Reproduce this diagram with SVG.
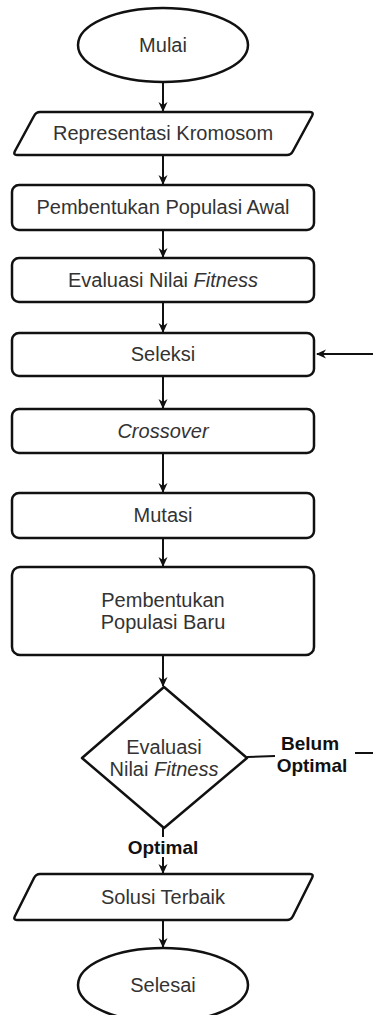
<svg xmlns="http://www.w3.org/2000/svg" width="373" height="1015" viewBox="0 0 373 1015">
<style>
.s{fill:#fff;stroke:#111;stroke-width:2.5;stroke-linejoin:round}
.t{font-family:"Liberation Sans",Arial,sans-serif;font-size:20px;fill:#333;text-anchor:middle;dominant-baseline:central}
.b{font-weight:bold;fill:#111;font-size:19px}
.c{fill:none;stroke:#111;stroke-width:2}
</style>
<defs>
<marker id="ah" viewBox="0 0 10 10" refX="9" refY="5" markerWidth="10" markerHeight="10" orient="auto" markerUnits="userSpaceOnUse">
<path d="M0,0.5 L10,5 L0,9.5 L3,5 Z" fill="#111"/>
</marker>
</defs>
<g id="connectors">
<line class="c" x1="163" y1="82" x2="163" y2="111" marker-end="url(#ah)"/>
<line class="c" x1="163" y1="155" x2="163" y2="184" marker-end="url(#ah)"/>
<line class="c" x1="163" y1="230" x2="163" y2="257" marker-end="url(#ah)"/>
<line class="c" x1="163" y1="302" x2="163" y2="332" marker-end="url(#ah)"/>
<line class="c" x1="163" y1="376" x2="163" y2="408" marker-end="url(#ah)"/>
<line class="c" x1="163" y1="453" x2="163" y2="492" marker-end="url(#ah)"/>
<line class="c" x1="163" y1="538" x2="163" y2="566" marker-end="url(#ah)"/>
<line class="c" x1="163" y1="655" x2="163" y2="686" marker-end="url(#ah)"/>
<line class="c" x1="163" y1="828" x2="163" y2="873" marker-end="url(#ah)"/>
<line class="c" x1="163" y1="920" x2="163" y2="947" marker-end="url(#ah)"/>
<path class="c" d="M247,757 L275,756 M355,753 L380,753 L380,354 L317,354" marker-end="url(#ah)"/>
<rect x="112" y="837" width="102" height="20" fill="#fff"/>
<text class="t b" x="163" y="847">Optimal</text>
<text class="t b" x="310" y="743">Belum</text>
<text class="t b" x="312" y="765">Optimal</text>
</g>
<g id="mulai">
<ellipse class="s" cx="163" cy="45" rx="85" ry="37"/>
<text class="t" x="163" y="45">Mulai</text>
</g>
<g id="representasi">
<path class="s" d="M40,112 L310,112 Q314,112 312,116 L293,151 Q291,155 287,155 L17,155 Q13,155 15,151 L34,116 Q36,112 40,112 Z"/>
<text class="t" x="163" y="133">Representasi Kromosom</text>
</g>
<g id="populasi-awal">
<rect class="s" x="12" y="185" width="302" height="45" rx="7"/>
<text class="t" x="163" y="207">Pembentukan Populasi Awal</text>
</g>
<g id="evaluasi1">
<rect class="s" x="12" y="258" width="302" height="44" rx="7"/>
<text class="t" x="163" y="280">Evaluasi Nilai <tspan font-style="italic">Fitness</tspan></text>
</g>
<g id="seleksi">
<rect class="s" x="12" y="333" width="302" height="43" rx="7"/>
<text class="t" x="163" y="354">Seleksi</text>
</g>
<g id="crossover">
<rect class="s" x="12" y="409" width="302" height="44" rx="7"/>
<text class="t" x="163" y="431" font-style="italic">Crossover</text>
</g>
<g id="mutasi">
<rect class="s" x="12" y="493" width="302" height="45" rx="7"/>
<text class="t" x="163" y="515">Mutasi</text>
</g>
<g id="populasi-baru">
<rect class="s" x="12" y="567" width="302" height="88" rx="8"/>
<text class="t" x="163" y="600">Pembentukan</text>
<text class="t" x="163" y="622">Populasi Baru</text>
</g>
<g id="evaluasi2">
<path class="s" d="M164,687 L247,758 L164,828 L82,758 Z"/>
<text class="t" x="164" y="747">Evaluasi</text>
<text class="t" x="164" y="769">Nilai <tspan font-style="italic">Fitness</tspan></text>
</g>
<g id="solusi">
<path class="s" d="M40,874 L310,874 Q314,874 312,878 L293,916 Q291,920 287,920 L17,920 Q13,920 15,916 L34,878 Q36,874 40,874 Z"/>
<text class="t" x="163" y="897">Solusi Terbaik</text>
</g>
<g id="selesai">
<ellipse class="s" cx="163" cy="985" rx="85" ry="37"/>
<text class="t" x="163" y="985">Selesai</text>
</g>
</svg>
